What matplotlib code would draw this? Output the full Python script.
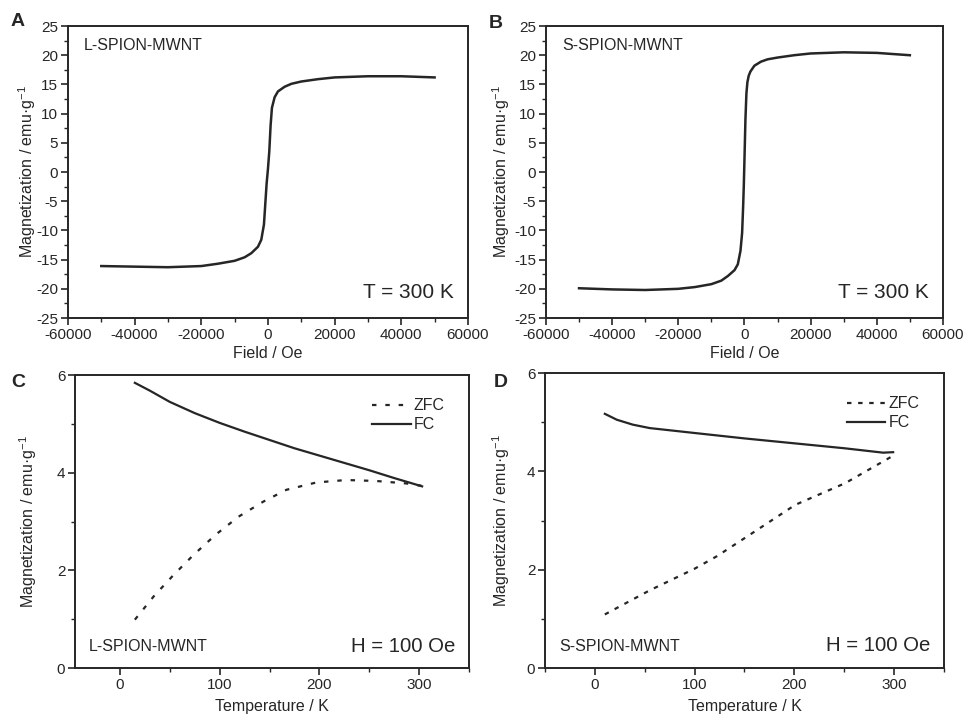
import matplotlib
matplotlib.use('Agg')
import matplotlib.pyplot as plt
from matplotlib.ticker import MultipleLocator

# hysteresis loops at 300 K (field in Oe, magnetization in emu/g)
field_l = [-50000, -40000, -30000, -20000, -15000, -10000, -7000, -5000, -3000, -2000,
	-1200, -800, -400, 0, 400, 800, 1200, 2000, 3000, 5000, 7000, 10000, 15000,
	20000, 30000, 40000, 50000]
mag_l = [-16.1, -16.2, -16.3, -16.1, -15.7, -15.2, -14.6, -13.9, -12.8, -11.6,
	-9.0, -5.5, -2.0, 0.5, 3.5, 8.0, 11.0, 12.8, 13.8, 14.6, 15.1, 15.5, 15.9,
	16.2, 16.4, 16.4, 16.2]

field_s = [-50000, -40000, -30000, -20000, -15000, -10000, -7000, -5000, -3000, -2000,
	-1200, -700, -400, -200, 0, 300, 600, 900, 1300, 1800, 3000, 5000, 7000, 10000,
	15000, 20000, 30000, 40000, 50000]
mag_s = [-19.9, -20.1, -20.2, -20.0, -19.7, -19.2, -18.6, -17.8, -16.8, -15.8,
	-13.5, -10.4, -6.0, -2.5, 2.0, 9.0, 13.5, 15.4, 16.5, 17.2, 18.2, 18.9, 19.3, 19.6,
	20.0, 20.3, 20.5, 20.4, 20.0]

# ZFC / FC curves at H = 100 Oe (temperature in K)
temp_fc_l = [15, 30, 50, 75, 100, 125, 150, 175, 200, 225, 250, 275, 303]
fc_l = [5.84, 5.68, 5.45, 5.22, 5.02, 4.84, 4.67, 4.50, 4.35, 4.20, 4.05, 3.89, 3.72]
temp_zfc_l = [15, 34, 54, 74, 96, 119, 144, 167, 197, 227, 257, 287, 303]
zfc_l = [0.99, 1.47, 1.91, 2.32, 2.73, 3.10, 3.41, 3.65, 3.80, 3.85, 3.83, 3.78, 3.73]

temp_fc_s = [10, 22, 38, 55, 100, 150, 200, 250, 289, 299]
fc_s = [5.17, 5.05, 4.95, 4.88, 4.78, 4.67, 4.57, 4.47, 4.38, 4.39]
temp_zfc_s = [10, 55, 100, 122, 150, 201, 251, 300]
zfc_s = [1.09, 1.58, 2.02, 2.27, 2.64, 3.32, 3.76, 4.33]

INK = '#262626'
plt.rcParams['font.family'] = ['Liberation Sans', 'DejaVu Sans']
plt.rcParams['mathtext.default'] = 'regular'
plt.rcParams['axes.unicode_minus'] = False
plt.rcParams['text.color'] = INK
plt.rcParams['axes.labelcolor'] = INK
plt.rcParams['xtick.color'] = INK
plt.rcParams['ytick.color'] = INK

YLABEL = 'Magnetization / emu·g$^{-1}$'


def style_axes(ax, ylab_x, xlab_y):
	for sp in ax.spines.values():
		sp.set_linewidth(1.4)
		sp.set_color(INK)
	ax.tick_params(which='major', direction='out', length=5, width=1.2, labelsize=11,
		pad=2, top=False, right=False)
	ax.tick_params(which='minor', direction='out', length=3, width=1.0,
		top=False, right=False)
	# label positions
	ax.yaxis.set_label_coords(ylab_x, 0.5)
	ax.xaxis.set_label_coords(0.5, xlab_y)


def loop_panel(ax, field, mag, name, ylab_x):
	ax.plot(field, mag, color=INK, lw=1.8)
	ax.set_xlim(-60000, 60000)
	ax.set_ylim(-25, 25)
	ax.xaxis.set_major_locator(MultipleLocator(20000))
	ax.xaxis.set_minor_locator(MultipleLocator(10000))
	ax.yaxis.set_major_locator(MultipleLocator(5))
	ax.yaxis.set_minor_locator(MultipleLocator(2.5))
	ax.set_xlabel('Field / Oe', fontsize=11.5)
	ax.set_ylabel(YLABEL, fontsize=11.5)
	ax.text(0.04, 0.935, name, transform=ax.transAxes, fontsize=11.5, va='center')
	ax.text(0.965, 0.086, 'T = 300 K', transform=ax.transAxes, fontsize=15,
		ha='right', va='center')
	style_axes(ax, ylab_x, -0.096)


def zfc_panel(ax, t_zfc, zfc, t_fc, fc, name, xmin, dash, ylab_x):
	ax.plot(t_zfc, zfc, color=INK, lw=1.6, dashes=dash, label='ZFC')
	ax.plot(t_fc, fc, color=INK, lw=1.6, label='FC')
	ax.set_xlim(xmin, 350)
	ax.set_ylim(0, 6)
	ax.xaxis.set_major_locator(MultipleLocator(100))
	ax.xaxis.set_minor_locator(MultipleLocator(50))
	ax.yaxis.set_major_locator(MultipleLocator(2))
	ax.yaxis.set_minor_locator(MultipleLocator(1))
	ax.set_xlabel('Temperature / K', fontsize=11.5)
	ax.set_ylabel(YLABEL, fontsize=11.5)
	ax.legend(loc='upper right', frameon=False, fontsize=11.5, handlelength=2.4,
		handletextpad=0.2, labelspacing=0.25, bbox_to_anchor=(0.975, 0.97))
	ax.text(0.035, 0.072, name, transform=ax.transAxes, fontsize=11.5, va='center')
	ax.text(0.965, 0.075, 'H = 100 Oe', transform=ax.transAxes, fontsize=14.7,
		ha='right', va='center')
	style_axes(ax, ylab_x, -0.105)


def main():
	fig = plt.figure(figsize=(9.68, 7.15), dpi=100)
	ax_a = fig.add_axes([0.0702, 0.5552, 0.4132, 0.4084])
	ax_b = fig.add_axes([0.5640, 0.5552, 0.4101, 0.4084])
	ax_c = fig.add_axes([0.0775, 0.0657, 0.4070, 0.4098])
	ax_d = fig.add_axes([0.5630, 0.0657, 0.4122, 0.4126])

	loop_panel(ax_a, field_l, mag_l, 'L-SPION-MWNT', -0.075)
	loop_panel(ax_b, field_s, mag_s, 'S-SPION-MWNT', -0.086)
	zfc_panel(ax_c, temp_zfc_l, zfc_l, temp_fc_l, fc_l, 'L-SPION-MWNT', -45, (2, 4), -0.092)
	zfc_panel(ax_d, temp_zfc_s, zfc_s, temp_fc_s, fc_s, 'S-SPION-MWNT', -50, (2, 3), -0.083)

	for letter, x, y in [('A', 18, 22), ('B', 496, 24), ('C', 18, 382), ('D', 501, 382)]:
		fig.text(x / 968, 1 - y / 715, letter, fontsize=14, fontweight='bold',
			ha='center', va='center')

	fig.savefig('out.png', dpi=100)
	plt.close(fig)


if __name__ == '__main__':
	main()
